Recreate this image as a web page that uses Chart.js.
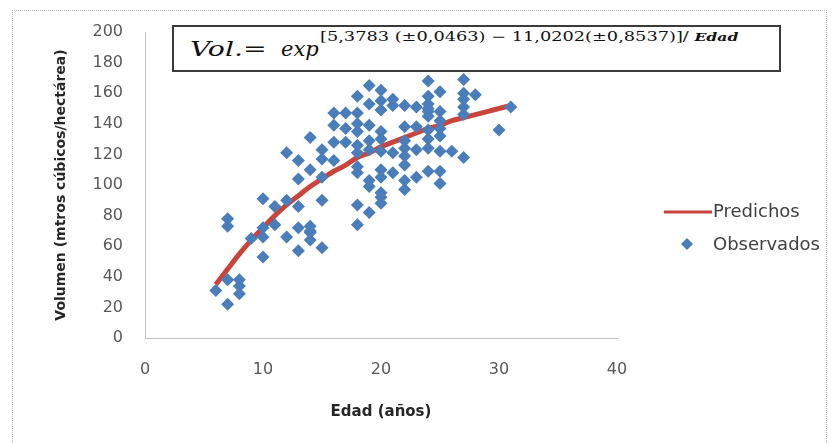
<!DOCTYPE html>
<html>
<head>
<meta charset="utf-8">
<script src="https://cdn.jsdelivr.net/npm/chart.js@4/dist/chart.umd.min.js"></script>
<style>
body { margin: 0; background: #fff; }
#wrap { position: relative; width: 839px; height: 443px; overflow: hidden; }
#frame { position: absolute; left: 12px; top: 10px; width: 813px; height: 445px; border: 1px dotted #b8b8b8; }
#chart { position: absolute; left: 0; top: 0; }
#formula {
  position: absolute; left: 172px; top: 25px; width: 605px; height: 43px;
  border: 2px solid #3a3a3a; background: #fff; white-space: nowrap;
  font-family: "DejaVu Serif", serif; font-style: italic; color: #111;
}
#formula span { position: absolute; transform-origin: left top; }
#formula .vol { left: 16px; top: 10px; font-size: 21px; transform: scaleX(1.35); }
#formula .exp { left: 107px; top: 10px; font-size: 21px; }
#formula .sup { left: 146px; top: 2px; font-size: 12.5px; font-style: normal; transform: scaleX(1.42); }
#formula .sup i { font-size: 11px; font-weight: bold; font-style: italic; }
</style>
</head>
<body>
<div id="wrap">
  <div id="frame"></div>
  <canvas id="chart" width="839" height="443"></canvas>
  <div id="formula">
    <span class="vol">Vol.=</span>
    <span class="exp">exp</span>
    <span class="sup">[5,3783 (±0,0463) − 11,0202(±0,8537)]/ <i>Edad</i></span>
  </div>
</div>
<script>
// observados (edad, volumen)
var ageObs = [6, 7, 7, 7, 7, 8, 8, 8, 9, 10, 10, 10, 10, 11, 11, 12, 12, 12,
  13, 13, 13, 13, 13, 14, 14, 14, 14, 15, 15,
  19, 20, 18, 19, 20, 16, 17, 18, 16, 18, 19, 20, 18, 17, 16, 15, 15, 16,
  18, 18, 19, 19, 14, 14, 15, 18, 18, 19, 19, 20, 20, 20, 18, 19, 18,
  24, 25, 24, 24, 21, 22, 23, 24, 24, 25, 20, 25, 24, 22, 23, 24, 25, 25, 20,
  22, 22, 22, 23, 24, 24, 25, 26, 20, 21, 22, 21, 22, 22, 23, 24, 25, 25, 20, 20,
  27, 27, 27, 27, 27, 28, 31, 30, 27, 17, 21];
var volObs = [31, 22, 78, 73, 38, 38, 34, 29, 65, 53, 72, 66, 91, 86, 74, 90, 66, 121,
  116, 104, 86, 72, 57, 70, 64, 110, 131, 90, 59,
  165, 162, 158, 153, 155, 147, 147, 147, 139, 140, 139, 135, 135, 128, 128, 123, 117, 116,
  126, 121, 129, 123, 73, 69, 105, 112, 108, 103, 99, 110, 105, 95, 87, 82, 74,
  168, 161, 158, 153, 152, 152, 151, 150, 148, 148, 149, 142, 145, 138, 138, 136, 137, 132, 130,
  129, 124, 119, 123, 130, 124, 122, 122, 122, 121, 113, 108, 103, 97, 105, 109, 109, 101, 92, 88,
  169, 160, 156, 151, 146, 159, 151, 136, 118, 137, 156];

// predichos
var agePred = [6, 7, 8, 9, 10, 11, 12, 13, 14, 15, 16, 17, 18, 19, 20, 21, 22, 23, 24, 25, 26, 27, 28, 29, 30, 31];
var volPred = [35, 45, 55, 64, 72, 80, 87, 93, 99, 104, 109, 113, 118, 121, 125, 128, 131, 134, 137, 139, 142, 144, 146, 148, 150, 152];

var xTicks = [0, 10, 20, 30, 40];
var yTicks = [0, 20, 40, 60, 80, 100, 120, 140, 160, 180, 200];

var red = "#c9443c";
var blue = "#4a7ebb";
var axisGray = "#c4bfca";

var obsPoints = ageObs.map(function (a, i) { return { x: a, y: volObs[i] }; });
var predPoints = agePred.map(function (a, i) { return { x: a, y: volPred[i] }; });

// leyenda a la derecha
var sideLegend = {
  id: "sideLegend",
  afterDraw: function (chart) {
    var c = chart.ctx;
    c.save();
    c.font = "18px 'DejaVu Sans'";
    c.fillStyle = "#404040";
    c.textBaseline = "middle";
    // Predichos
    c.strokeStyle = red;
    c.lineWidth = 3;
    c.beginPath();
    c.moveTo(664, 212);
    c.lineTo(712, 212);
    c.stroke();
    c.fillText(chart.data.datasets[0].label, 713, 212);
    // Observados
    c.fillStyle = blue;
    c.beginPath();
    c.moveTo(687, 238);
    c.lineTo(693, 244);
    c.lineTo(687, 250);
    c.lineTo(681, 244);
    c.closePath();
    c.fill();
    c.fillStyle = "#404040";
    c.fillText(chart.data.datasets[1].label, 713, 245);
    c.restore();
  }
};

new Chart(document.getElementById("chart").getContext("2d"), {
  type: "scatter",
  data: {
    datasets: [
      {
        label: "Predichos",
        data: predPoints,
        showLine: true,
        borderColor: red,
        borderWidth: 5,
        pointRadius: 0,
        tension: 0.4,
        order: 1
      },
      {
        label: "Observados",
        data: obsPoints,
        pointStyle: "rectRot",
        pointRadius: 6.5,
        backgroundColor: blue,
        borderColor: blue,
        borderWidth: 0,
        order: 0
      }
    ]
  },
  plugins: [sideLegend],
  options: {
    responsive: false,
    animation: false,
    layout: { padding: { top: 32, right: 222, left: 0, bottom: 0 } },
    plugins: { legend: { display: false }, tooltip: { enabled: false } },
    scales: {
      x: {
        min: 0, max: 40,
        afterBuildTicks: function (s) { s.ticks = xTicks.map(function (v) { return { value: v }; }); },
        afterFit: function (s) { s.height = 105; },
        grid: { display: false, drawTicks: false },
        border: { display: true, color: axisGray, width: 1, dash: [2, 1] },
        ticks: { padding: 22, color: "#595959", font: { family: "DejaVu Sans", size: 16 } },
        title: {
          display: true, text: "Edad (años)", color: "#262626",
          font: { family: "DejaVu Sans", size: 15, weight: "bold" },
          padding: { top: 0, bottom: 22 }
        }
      },
      y: {
        min: 0, max: 200,
        afterBuildTicks: function (s) { s.ticks = yTicks.map(function (v) { return { value: v }; }); },
        afterFit: function (s) { s.width = 145; },
        grid: { display: false, drawTicks: false },
        border: { display: true, color: axisGray, width: 1, dash: [2, 1] },
        ticks: { padding: 22, color: "#595959", font: { family: "DejaVu Sans", size: 16 } },
        title: {
          display: true, text: "Volumen (mtros cúbicos/hectárea)", color: "#262626",
          font: { family: "DejaVu Sans", size: 14, weight: "bold" },
          padding: { top: 53, bottom: 0 }
        }
      }
    }
  }
});
</script>
</body>
</html>
